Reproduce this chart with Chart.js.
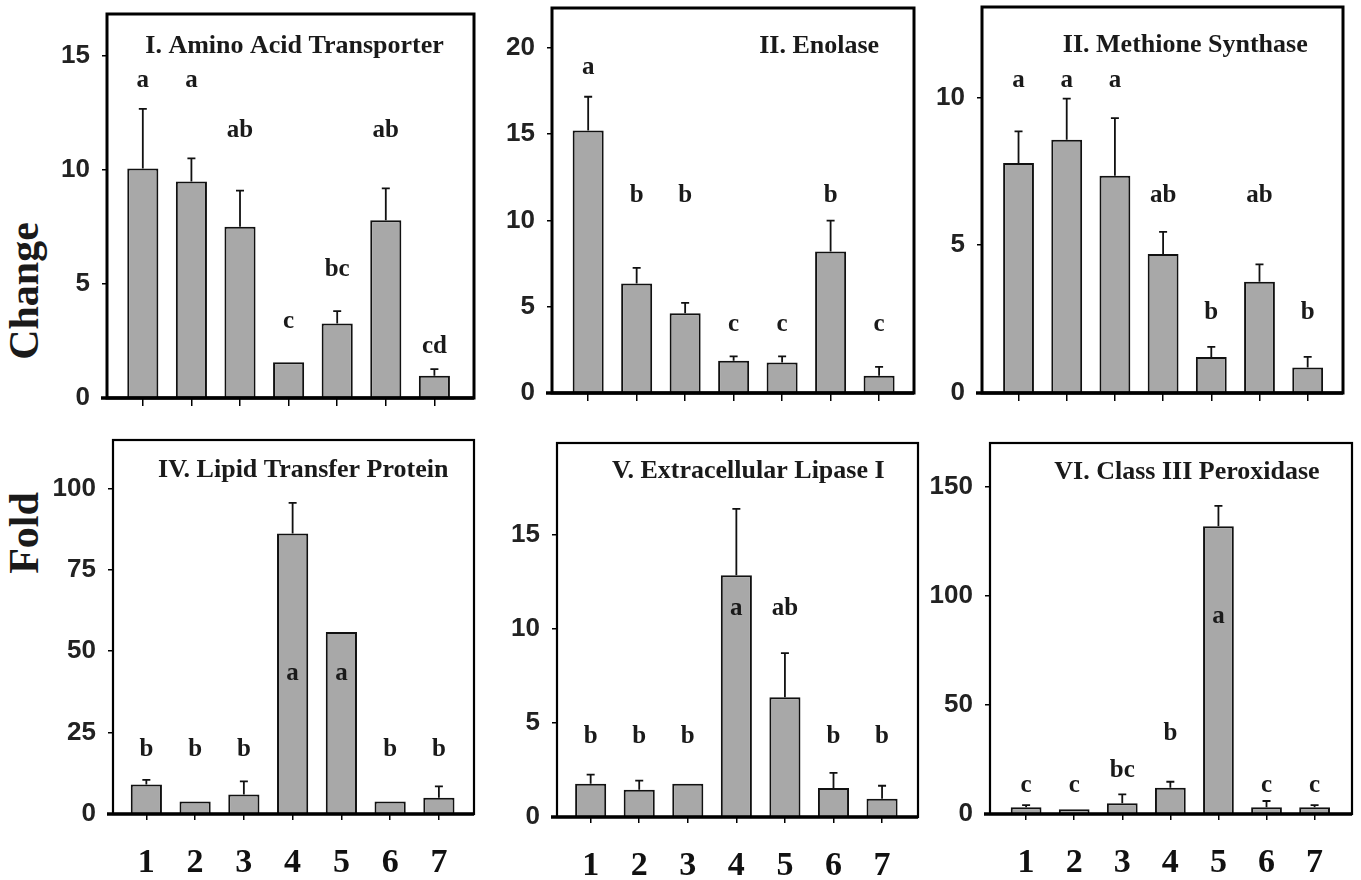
<!DOCTYPE html>
<html>
<head>
<meta charset="utf-8">
<title>Fold change</title>
<script src="https://cdn.jsdelivr.net/npm/chart.js@4.4.1/dist/chart.umd.min.js"></script>
<style>
  body { margin: 0; background: #fff; }
  #page { position: relative; width: 1361px; height: 880px; overflow: hidden; }
  #page canvas { position: absolute; }
  .ylab {
    position: absolute; font: bold 42px 'Liberation Serif', 'Times New Roman', serif;
    color: #1a1a1a; line-height: 1; white-space: nowrap;
    transform: translate(-50%, -50%) rotate(-90deg);
  }
</style>
</head>
<body>
<div id="page">
  <div class="ylab" style="left:24px; top:291px">Change</div>
  <div class="ylab" style="left:24px; top:533px">Fold</div>
</div>
<script>
// treatment groups 1..7 (x axis)
const groups = [1, 2, 3, 4, 5, 6, 7];

// I. Amino Acid Transporter
const aminoMeans = [10.07, 9.49, 7.51, 1.57, 3.27, 7.80, 0.98];
const aminoErrors = [2.61, 1.02, 1.58, 0, 0.54, 1.39, 0.29];
const aminoLetters = ['a', 'a', 'ab', 'c', 'bc', 'ab', 'cd'];
const aminoLetterAt = [13.65, 13.65, 11.44, 3.08, 5.35, 11.44, 1.98];

// II. Enolase
const enolaseMeans = [15.2, 6.34, 4.62, 1.87, 1.77, 8.19, 1.0];
const enolaseErrors = [1.96, 0.91, 0.6, 0.25, 0.35, 1.8, 0.51];
const enolaseLetters = ['a', 'b', 'b', 'c', 'c', 'b', 'c'];
const enolaseLetterAt = [18.45, 11.05, 11.05, 3.57, 3.57, 11.05, 3.57];

// II. Methione Synthase
const methMeans = [7.78, 8.57, 7.35, 4.70, 1.22, 3.76, 0.86];
const methErrors = [1.07, 1.39, 1.95, 0.75, 0.34, 0.59, 0.36];
const methLetters = ['a', 'a', 'a', 'ab', 'b', 'ab', 'b'];
const methLetterAt = [10.35, 10.35, 10.35, 6.45, 2.52, 6.45, 2.52];

// IV. Lipid Transfer Protein
const ltpMeans = [9.08, 3.85, 6.0, 86.2, 55.9, 3.85, 4.97];
const ltpErrors = [1.4, 0, 4.0, 9.4, 0, 0, 3.5];
const ltpLetters = ['b', 'b', 'b', 'a', 'a', 'b', 'b'];
const ltpLetterAt = [17.7, 17.7, 17.7, 41.1, 41.1, 17.7, 17.7];

// V. Extracellular Lipase I
const lipaseMeans = [1.77, 1.45, 1.77, 12.84, 6.36, 1.54, 0.97];
const lipaseErrors = [0.48, 0.48, 0, 3.53, 2.35, 0.8, 0.69];
const lipaseLetters = ['b', 'b', 'b', 'a', 'ab', 'b', 'b'];
const lipaseLetterAt = [3.93, 3.93, 3.93, 10.75, 10.75, 3.93, 3.93];

// VI. Class III Peroxidase
const peroxMeans = [3.06, 2.14, 4.9, 12.1, 132.1, 3.06, 3.06];
const peroxErrors = [1.0, 0, 4.1, 2.7, 9.3, 2.9, 1.0];
const peroxLetters = ['c', 'c', 'bc', 'b', 'a', 'c', 'c'];
const peroxLetterAt = [10.2, 10.2, 17.0, 33.9, 87.5, 10.2, 10.2];

const serif = "'Liberation Serif', 'Times New Roman', serif";
const narrow = "'Liberation Sans Narrow', 'Arial Narrow', Arial, sans-serif";

const PAD_L = 80, PAD_T = 10, PAD_R = 10, AX_H = 70;

// box = chart area [left, top, right, bottom] on the page
const panels = [
  { title: 'I. Amino Acid Transporter', means: aminoMeans, errs: aminoErrors, letters: aminoLetters, letterAt: aminoLetterAt,
    step: 5, ymax: 16.84, xr: [0.263, 7.815], box: [107, 14, 474, 398], titleX: 0.511, titleY: 39, frame: 3, showX: false },
  { title: 'II. Enolase', means: enolaseMeans, errs: enolaseErrors, letters: enolaseLetters, letterAt: enolaseLetterAt,
    step: 5, ymax: 22.3, xr: [0.254, 7.72], box: [552, 8, 914, 393], titleX: 0.738, titleY: 45, frame: 3, showX: false },
  { title: 'II. Methione Synthase', means: methMeans, errs: methErrors, letters: methLetters, letterAt: methLetterAt,
    step: 5, ymax: 13.06, xr: [0.242, 7.733], box: [982, 7, 1343, 393], titleX: 0.563, titleY: 45, frame: 3, showX: false },
  { title: 'IV. Lipid Transfer Protein', means: ltpMeans, errs: ltpErrors, letters: ltpLetters, letterAt: ltpLetterAt,
    step: 25, ymax: 114.9, xr: [0.316, 7.72], box: [113, 440, 474, 814], titleX: 0.527, titleY: 37, frame: 2.2, showX: true },
  { title: 'V. Extracellular Lipase I', means: lipaseMeans, errs: lipaseErrors, letters: lipaseLetters, letterAt: lipaseLetterAt,
    step: 5, ymax: 19.87, xr: [0.307, 7.74], box: [557, 443, 918, 817], titleX: 0.53, titleY: 35, frame: 2.2, showX: true },
  { title: 'VI. Class III Peroxidase', means: peroxMeans, errs: peroxErrors, letters: peroxLetters, letterAt: peroxLetterAt,
    step: 50, ymax: 170.3, xr: [0.249, 7.778], box: [990, 443, 1352, 814], titleX: 0.544, titleY: 36, frame: 2.2, showX: true }
];

// error bars, significance letters, panel title and frame
const extras = {
  id: 'extras',
  afterDatasetsDraw(chart, args, opts) {
    const { ctx, chartArea: a, scales: { y } } = chart;
    const p = opts.panel;
    const bars = chart.getDatasetMeta(0).data;
    ctx.save();
    ctx.strokeStyle = '#111';
    ctx.lineWidth = 1.8;
    bars.forEach((bar, i) => {
      const e = p.errs[i];
      if (!e) return;
      const y0 = y.getPixelForValue(p.means[i]);
      const y1 = y.getPixelForValue(p.means[i] + e);
      ctx.beginPath();
      ctx.moveTo(bar.x, y0); ctx.lineTo(bar.x, y1);
      ctx.moveTo(bar.x - 4, y1); ctx.lineTo(bar.x + 4, y1);
      ctx.stroke();
    });
    ctx.fillStyle = '#1a1a1a';
    ctx.textAlign = 'center';
    ctx.textBaseline = 'alphabetic';
    ctx.font = 'bold 25px ' + serif;
    bars.forEach((bar, i) => ctx.fillText(p.letters[i], bar.x, y.getPixelForValue(p.letterAt[i])));
    ctx.font = 'bold 26px ' + serif;
    ctx.fillText(p.title, a.left + p.titleX * (a.right - a.left), a.top + p.titleY);
    ctx.strokeStyle = '#000';
    ctx.lineWidth = p.frame;
    ctx.strokeRect(a.left, a.top, a.right - a.left, a.bottom - a.top);
    ctx.lineWidth = 3.5;
    ctx.beginPath();
    ctx.moveTo(a.left - 6, a.bottom); ctx.lineTo(a.right, a.bottom);
    ctx.stroke();
    ctx.restore();
  }
};

const page = document.getElementById('page');

// fixed axis sizes so the chart area lands on the panel box
const fitX = s => { s.height = AX_H; s.paddingLeft = 0; s.paddingRight = 0; };
const fitY = s => { s.width = PAD_L; s.paddingTop = 0; s.paddingBottom = 0; };

panels.forEach(p => {
  const [l, t, r, b] = p.box;
  const cv = document.createElement('canvas');
  const W = r - l + PAD_L + PAD_R, H = b - t + PAD_T + AX_H;
  cv.width = W; cv.height = H;
  cv.style.width = W + 'px'; cv.style.height = H + 'px';
  cv.style.left = (l - PAD_L) + 'px';
  cv.style.top = (t - PAD_T) + 'px';
  page.appendChild(cv);

  new Chart(cv, {
    type: 'bar',
    data: {
      datasets: [{
        data: groups.map((g, i) => ({ x: g, y: p.means[i] })),
        backgroundColor: '#a8a8a8',
        borderColor: '#111',
        borderWidth: 2,
        borderSkipped: 'bottom',
        barPercentage: 0.64,
        categoryPercentage: 1
      }]
    },
    options: {
      responsive: false,
      animation: false,
      devicePixelRatio: 1,
      layout: { padding: { top: PAD_T, right: PAD_R, left: 0, bottom: 0 } },
      plugins: {
        legend: { display: false },
        tooltip: { enabled: false },
        extras: { panel: p }
      },
      scales: {
        x: {
          type: 'linear',
          offset: false,
          min: p.xr[0],
          max: p.xr[1],
          afterBuildTicks: s => { s.ticks = groups.map(v => ({ value: v })); },
          afterFit: fitX,
          grid: { offset: false, drawOnChartArea: false, tickLength: p.showX ? 6 : 8, color: '#000', lineWidth: 1.5 },
          border: { display: false },
          ticks: {
            display: p.showX,
            autoSkip: false,
            maxRotation: 0,
            padding: 23,
            color: '#111',
            font: { family: serif, size: 34, weight: 'bold' }
          }
        },
        y: {
          min: 0,
          max: p.ymax,
          afterBuildTicks: s => { s.ticks = s.ticks.filter(tk => tk.value % p.step === 0); },
          afterFit: fitY,
          grid: { drawOnChartArea: false, tickLength: 5, color: '#000', lineWidth: 1.5 },
          border: { display: false },
          ticks: {
            stepSize: p.step,
            padding: 12,
            color: '#222',
            font: { family: narrow, size: 26, weight: 'bold' }
          }
        }
      }
    },
    plugins: [extras]
  });
});
</script>
</body>
</html>
